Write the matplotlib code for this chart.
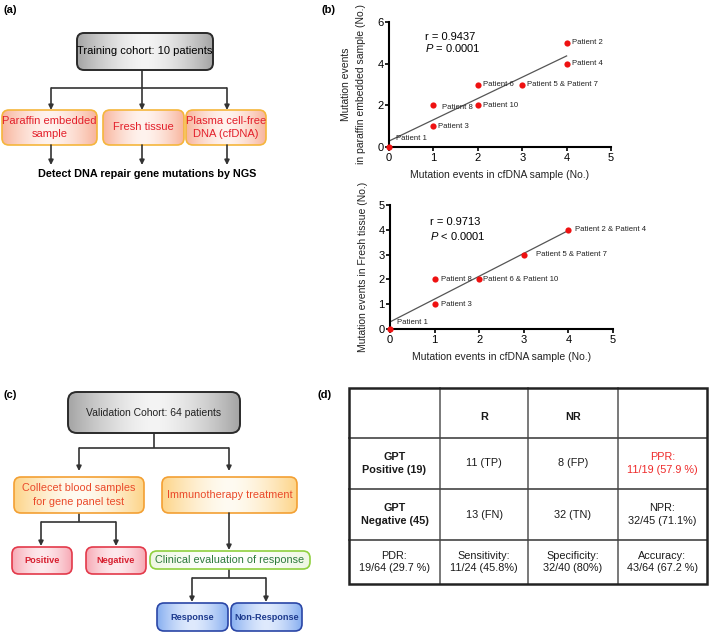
import numpy as np
import matplotlib
matplotlib.use('Agg')
import matplotlib.pyplot as plt
from matplotlib.patches import FancyBboxPatch, Rectangle
from matplotlib.colors import to_rgb

plt.rcParams['font.family'] = ['Liberation Sans', 'DejaVu Sans']
plt.rcParams['mathtext.fontset'] = 'custom'
plt.rcParams['mathtext.rm'] = 'Liberation Sans'
plt.rcParams['mathtext.it'] = 'Liberation Sans:italic'

# ---- data: panel (b), top (paraffin vs cfDNA)
top_labels = ['Patient 1', 'Patient 2', 'Patient 3', 'Patient 4',
              'Patient 5 & Patient 7', 'Patient 6', 'Patient 8', 'Patient 10']
top_cfdna = [0, 4, 1, 4, 3, 2, 1, 2]
top_paraffin = [0, 5, 1, 4, 3, 3, 2, 2]
top_count = [1, 1, 1, 1, 2, 1, 1, 1]
top_r = '0.9437'
top_p = '= 0.0001'

# ---- data: panel (b), bottom (fresh tissue vs cfDNA)
bot_labels = ['Patient 1', 'Patient 2 & Patient 4', 'Patient 3',
              'Patient 5 & Patient 7', 'Patient 6 & Patient 10', 'Patient 8']
bot_cfdna = [0, 4, 1, 3, 2, 1]
bot_fresh = [0, 4, 1, 3, 2, 2]
bot_count = [1, 2, 1, 2, 2, 1]
bot_r = '0.9713'
bot_p = '< 0.0001'

# ---- data: panel (d) table
table_rows = [
    ['', 'R', 'NR', ''],
    ['GPT\nPositive (19)', '11 (TP)', '8 (FP)', 'PPR:\n11/19 (57.9 %)'],
    ['GPT\nNegative (45)', '13 (FN)', '32 (TN)', 'NPR:\n32/45 (71.1%)'],
    ['PDR:\n19/64 (29.7 %)', 'Sensitivity:\n11/24 (45.8%)',
     'Specificity:\n32/40 (80%)', 'Accuracy:\n43/64 (67.2 %)'],
]

fig = plt.figure(figsize=(7.09, 6.32), dpi=100)
ax = fig.add_axes([0, 0, 1, 1])
ax.set_xlim(0, 709)
ax.set_ylim(632, 0)
ax.axis('off')

LINE = '#333333'


def gbox(x0, y0, x1, y1, side, mid, ec, text, tc, fs=8, bold=False, lw=1.2, r=7):
    patch = FancyBboxPatch((x0, y0), x1 - x0, y1 - y0,
                           boxstyle=f'round,pad=0,rounding_size={r}',
                           fc='none', ec=ec, lw=lw, zorder=3)
    ax.add_patch(patch)
    t = np.linspace(-1, 1, 200)
    w = np.abs(t) ** 1.6
    img = (1 - w)[:, None] * np.array(to_rgb(mid)) + w[:, None] * np.array(to_rgb(side))
    img = np.tile(img[None, :, :], (2, 1, 1))
    im = ax.imshow(img, extent=(x0, x1, y1, y0), aspect='auto', zorder=2,
                   interpolation='bilinear')
    im.set_clip_path(patch)
    ax.text((x0 + x1) / 2, (y0 + y1) / 2, text, ha='center', va='center',
            color=tc, fontsize=fs, fontweight='bold' if bold else 'normal',
            linespacing=1.45, zorder=4)


def arrow(x, y0, y1):
    ax.annotate('', xy=(x, y1), xytext=(x, y0),
                arrowprops=dict(arrowstyle='-|>', color=LINE, lw=1.2,
                                mutation_scale=7, shrinkA=0, shrinkB=0))


def line(xs, ys):
    ax.plot(xs, ys, color=LINE, lw=1.2, solid_capstyle='butt')


# ---- panel labels
for lab, x, y in [('(a)', 10, 10), ('(b)', 328, 10), ('(c)', 10, 395), ('(d)', 325, 395)]:
    ax.text(x, y, lab, fontsize=8, fontweight='bold', ha='center', va='center')

# ---- panel (a)
gbox(77, 33, 213, 70, '#a4a4a4', '#f4f4f4', '#2a2a2a', 'Training cohort: 10 patients', 'black', fs=8, lw=1.4)
line([142, 142], [70, 88])
line([51, 227], [88, 88])
for x in [51, 142, 227]:
    arrow(x, 88, 110)
orange_a = dict(side='#f8b49c', mid='#fff3ee', ec='#f5b63c', tc='#e3202b', fs=8)
gbox(2, 110, 97, 145, text='Paraffin embedded\nsample', **orange_a)
gbox(103, 110, 184, 145, text='Fresh tissue', **orange_a)
gbox(186, 110, 266, 145, text='Plasma cell-free\nDNA (cfDNA)', **orange_a)
for x in [51, 142, 227]:
    arrow(x, 145, 165)
ax.text(147, 174, 'Detect DNA repair gene mutations by NGS', fontsize=7.8,
        fontweight='bold', ha='center', va='center')

# ---- panel (c)
gbox(68, 392, 240, 433, '#a4a4a4', '#f4f4f4', '#2a2a2a', 'Validation Cohort: 64 patients', '#222222', fs=7.5, lw=1.4, r=9)
line([154, 154], [433, 448])
line([79, 229], [448, 448])
arrow(79, 448, 471)
arrow(229, 448, 471)
orange_c = dict(side='#fdd488', mid='#fffbf2', ec='#f3a033', tc='#ea4a2a', fs=7.8)
gbox(14, 477, 144, 513, text='Collecet blood samples\nfor gene panel test', **orange_c)
gbox(162, 477, 297, 513, text='Immunotherapy treatment', **orange_c)
line([79, 79], [513, 522])
line([41, 116], [522, 522])
arrow(41, 522, 546)
arrow(116, 522, 546)
pink = dict(side='#f7a8b4', mid='#fde9ec', ec='#e3394a', tc='#d71f2f', fs=6.6, bold=True)
gbox(12, 547, 72, 574, text='Positive', **pink)
gbox(86, 547, 146, 574, text='Negative', **pink)
arrow(229, 513, 550)
gbox(150, 551, 310, 569, '#eef7e2', '#ffffff', '#8fd03e', 'Clinical evaluation of response', '#2c7a3c', fs=7.8)
line([229, 229], [569, 578])
line([192, 266], [578, 578])
arrow(192, 578, 602)
arrow(266, 578, 602)
blue = dict(side='#86aef0', mid='#dfeafd', ec='#2a46a6', tc='#1d3a8e', fs=6.6, bold=True)
gbox(157, 603, 228, 631, text='Response', **blue)
gbox(231, 603, 302, 631, text='Non-Response', **blue)

# ---- panel (d) table
col_edges = [349, 440, 528, 618, 707]
row_edges = [388, 438, 489, 540, 584]
for x in col_edges[1:-1]:
    ax.plot([x, x], [row_edges[0], row_edges[-1]], color='#555555', lw=1.1)
for y in row_edges[1:-1]:
    ax.plot([col_edges[0], col_edges[-1]], [y, y], color='#444444', lw=1.2)
ax.add_patch(Rectangle((col_edges[0], row_edges[0]), col_edges[-1] - col_edges[0],
                       row_edges[-1] - row_edges[0], fill=False, ec='#222222', lw=1.8, zorder=5))
for i, row in enumerate(table_rows):
    for j, txt in enumerate(row):
        if not txt:
            continue
        bold = (i == 0) or (j == 0 and i in (1, 2))
        color = '#ee2a2a' if (i == 1 and j == 3) else '#1a1a1a'
        yc = (row_edges[i] + row_edges[i + 1]) / 2 + (4 if i == 0 else 0)
        ax.text((col_edges[j] + col_edges[j + 1]) / 2, yc, txt, ha='center', va='center',
                fontsize=7.8, fontweight='bold' if bold else 'normal', color=color,
                linespacing=1.3)


# ---- panel (b) scatter plots
def scatter_panel(rect, xs, ys, counts, labels, offsets, ymax, yticks, ylabel, r, p, rpos, ylab_x):
    a = fig.add_axes(rect)
    a.set_facecolor('none')
    xx = np.repeat(xs, counts)
    yy = np.repeat(ys, counts)
    k, b = np.polyfit(xx, yy, 1)
    fx = np.array([0, max(xs)])
    a.plot(fx, k * fx + b, color='#555555', lw=0.9)
    a.scatter(xs, ys, s=20, color='#ee1111', zorder=3, clip_on=False, linewidths=0)
    for x, y, lab, off in zip(xs, ys, labels, offsets):
        a.annotate(lab, (x, y), xytext=off, textcoords='offset pixels',
                   fontsize=5.6, color='#222222', va='center', ha='left')
    a.set_xlim(0, 5)
    a.set_ylim(0, ymax)
    a.set_xticks(range(6))
    a.set_yticks(yticks)
    for s in ['top', 'right']:
        a.spines[s].set_visible(False)
    for s in ['left', 'bottom']:
        a.spines[s].set_linewidth(1.5)
    a.tick_params(direction='out', length=3, width=1.2, labelsize=8, pad=1)
    a.set_xlabel('Mutation events in cfDNA sample (No.)', fontsize=7.5, labelpad=5, color='#222222')
    a.set_ylabel(ylabel, fontsize=7.5, color='#222222', linespacing=1.6)
    a.yaxis.set_label_coords(ylab_x, 0.5)
    a.text(rpos[0], rpos[1], f'r = {r}', fontsize=8, transform=a.transAxes)
    a.text(rpos[0], rpos[1] - 0.1 * 6 / ymax, r'$P$ ' + p,
           fontsize=8, transform=a.transAxes)
    return a


top_offsets = [(7, 8), (5, 0), (5, 0), (5, 0), (5, 0), (5, 0), (9, -2), (5, 0)]
scatter_panel([389 / 709, 1 - 147 / 632, 222 / 709, 125 / 632],
              top_cfdna, top_paraffin, top_count, top_labels, top_offsets,
              6, [0, 2, 4, 6], 'Mutation events\nin paraffin embedded sample (No.)',
              top_r, top_p, (0.16, 0.86), -0.105)

bot_offsets = [(7, 7), (7, 0), (6, 0), (12, 0), (4, 0), (6, 0)]
scatter_panel([390 / 709, 1 - 329 / 632, 223 / 709, 124 / 632],
              bot_cfdna, bot_fresh, bot_count, bot_labels, bot_offsets,
              5, [0, 1, 2, 3, 4, 5], 'Mutation events in Fresh tissue (No.)',
              bot_r, bot_p, (0.18, 0.84), -0.10)

fig.savefig('out.png', dpi=100)
